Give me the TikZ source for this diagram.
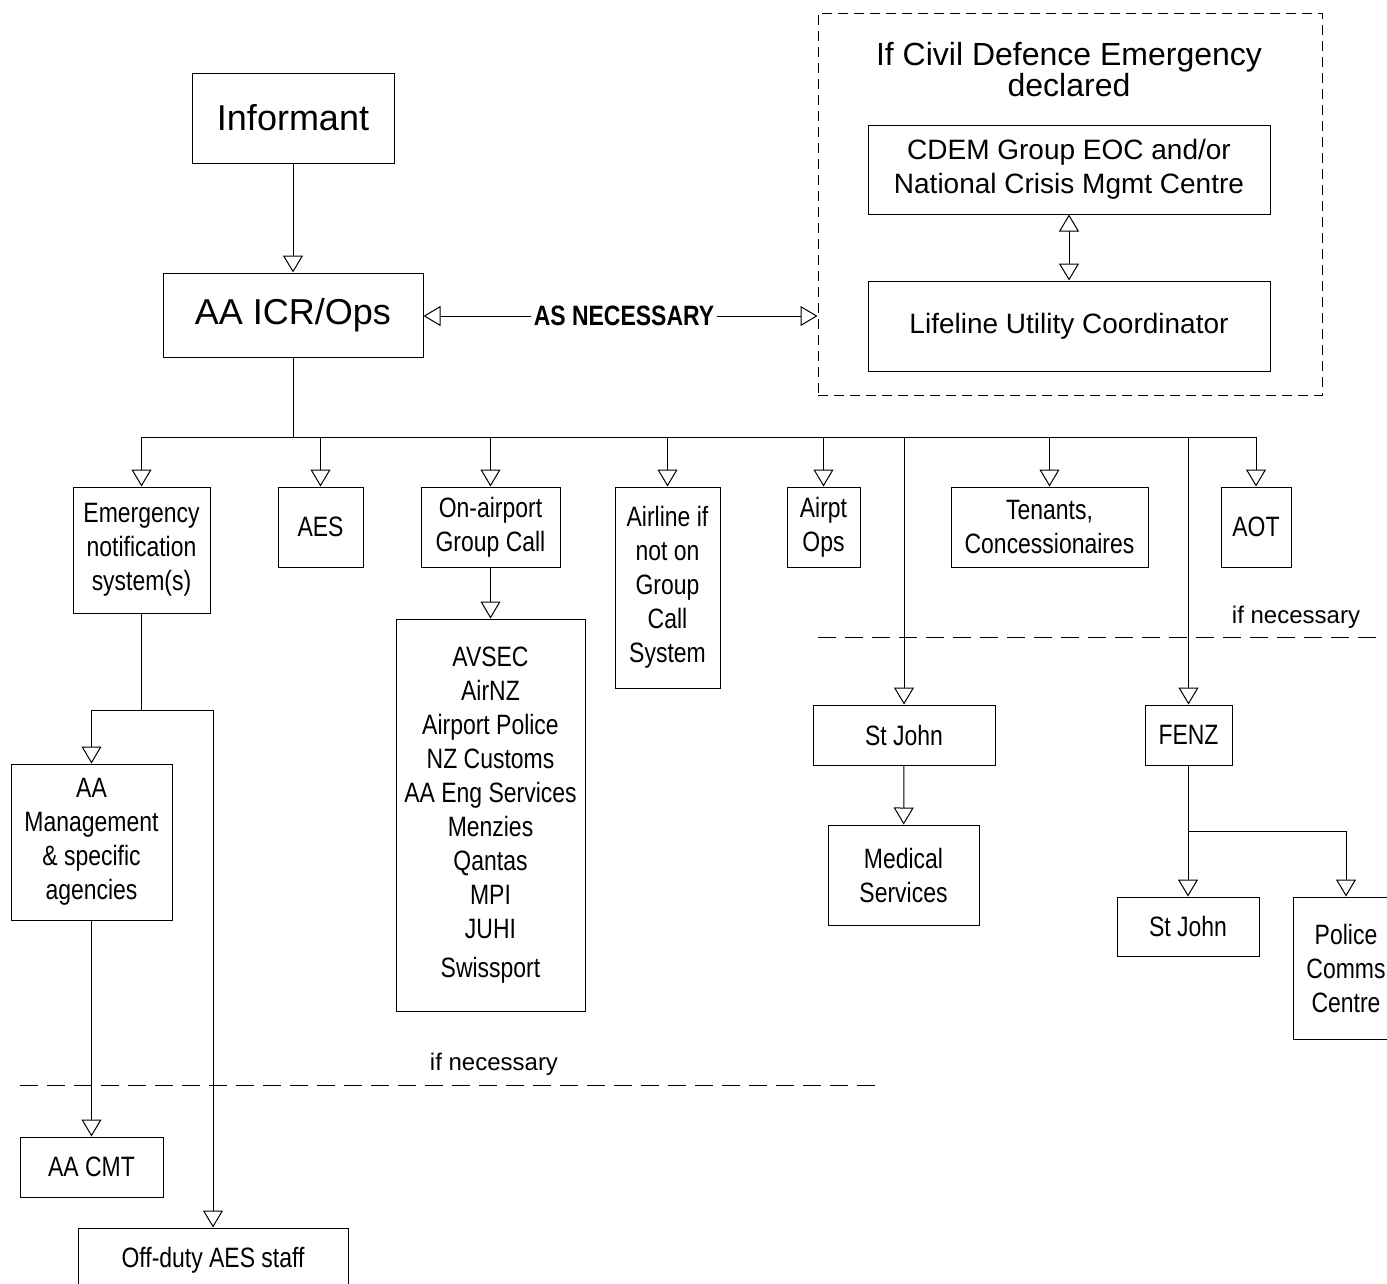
\documentclass[tikz,border=0pt]{standalone}
\usepackage{fontspec}
\setmainfont{Liberation Sans}
\newfontfamily\narrowfont[FakeStretch=0.82]{Liberation Sans}
\usetikzlibrary{arrows.meta}

\begin{document}
\begin{tikzpicture}[x=1pt,y=-1pt,line width=1pt,
  box/.style={draw,inner sep=0pt,align=center,font=\narrowfont\fontsize{28}{34}\selectfont},
  bigbox/.style={draw,inner sep=0pt,align=center,font=\fontsize{36}{40}\selectfont},
  midbox/.style={draw,inner sep=0pt,align=center,font=\fontsize{28}{34}\selectfont},
  arr/.style={-{Triangle[open,length=17pt,width=20pt]}},
  twoarr/.style={{Triangle[open,length=17pt,width=20pt]}-{Triangle[open,length=17pt,width=20pt]}},
  sepline/.style={dash pattern=on 18pt off 9pt},
  note/.style={inner sep=0pt,font=\fontsize{24}{28}\selectfont}]
\path[use as bounding box] (0,0) rectangle (1387,1283);
% top part
\node[bigbox,minimum width=202pt,minimum height=90pt] (inf) at (293,118) {Informant};
\node[bigbox,minimum width=260pt,minimum height=84pt] (icr) at (293,315) {AA ICR/Ops};
\draw[arr] (inf) -- (icr);
\node[draw,dash pattern=on 10pt off 6pt,minimum width=504pt,minimum height=382pt] (cdframe) at (1070,204) {};
\node[align=center,inner sep=0pt,font=\fontsize{32}{31}\selectfont] (cdtitle) at (1069,70) {If Civil Defence Emergency\\declared};
\node[midbox,minimum width=402pt,minimum height=89pt] (cdem) at (1069,169.5) {CDEM Group EOC and/or\\National Crisis Mgmt Centre};
\node[midbox,minimum width=402pt,minimum height=90pt] (luc) at (1069,326) {Lifeline Utility Coordinator};
\draw[twoarr] (cdem) -- (luc);
\node[inner sep=2pt,font=\narrowfont\bfseries\fontsize{28}{30}\selectfont] (asn) at (624,316) {AS NECESSARY};
\draw[arr] (asn.west) -- (asn.west -| icr.east);
\draw[arr] (asn.east) -- (asn.east -| cdframe.west);
% second row
\coordinate (bus) at (0,437);
\node[box,minimum width=137pt,minimum height=126pt] (ens) at (141.5,550) {Emergency\\notification\\system(s)};
\node[box,minimum width=85pt,minimum height=80pt] (aes) at (320.5,527) {AES};
\node[box,minimum width=139pt,minimum height=80pt] (oagc) at (490.5,527) {On-airport\\Group Call};
\node[box,minimum width=105pt,minimum height=201pt] (airline) at (667.5,587.5) {Airline if\\not on\\Group\\Call\\System};
\node[box,minimum width=73pt,minimum height=80pt] (airpt) at (823.5,527) {Airpt\\Ops};
\node[box,minimum width=197pt,minimum height=80pt] (tenants) at (1049.5,527) {Tenants,\\Concessionaires};
\node[box,minimum width=70pt,minimum height=80pt] (aot) at (1256,527) {AOT};
\node[box,minimum width=182pt,minimum height=60pt] (stjohn) at (904,735) {St John};
\node[box,minimum width=87pt,minimum height=60pt] (fenz) at (1188.5,735) {FENZ};
\draw (icr) -- (icr.south |- bus);
\draw (ens.north |- bus) -- (aot.north |- bus);
\foreach \n in {ens,aes,oagc,airline,airpt,tenants,aot,stjohn,fenz}
  \draw[arr] (\n.north |- bus) -- (\n.north);
\node[note] (ifnec1) at (1296,617) {if necessary};
\draw[sepline] (818,637) -- (1380,637);
% group call list
\node[box,minimum width=189pt,minimum height=392pt] (list) at (490.5,815) {AVSEC\\AirNZ\\Airport Police\\NZ Customs\\AA Eng Services\\Menzies\\Qantas\\MPI\\JUHI\\[5pt]Swissport};
\draw[arr] (oagc) -- (list);
% St John / FENZ
\node[box,minimum width=151pt,minimum height=100pt] (medical) at (903.5,875) {Medical\\Services};
\draw[arr] (stjohn) -- (medical);
\coordinate (fsplit) at (0,831);
\node[box,minimum width=142pt,minimum height=59pt] (stjohnb) at (1188,926.5) {St John};
\node[box,minimum width=106pt,minimum height=142pt] (police) at (1346,968) {Police\\Comms\\Centre};
\draw (fenz) -- (fenz.south |- fsplit);
\draw (stjohnb.north |- fsplit) -- (police.north |- fsplit);
\draw[arr] (stjohnb.north |- fsplit) -- (stjohnb.north);
\draw[arr] (police.north |- fsplit) -- (police.north);
% notification branch
\coordinate (nsplit) at (0,710);
\node[box,minimum width=161pt,minimum height=156pt] (aamgmt) at (91.5,842) {AA\\Management\\\& specific\\agencies};
\node[box,minimum width=143pt,minimum height=60pt] (aacmt) at (91.5,1167) {AA CMT};
\node[box,minimum width=270pt,minimum height=64pt] (offduty) at (213,1260) {Off-duty AES staff};
\draw (ens) -- (ens.south |- nsplit);
\draw (aamgmt.north |- nsplit) -- (offduty.north |- nsplit);
\draw[arr] (aamgmt.north |- nsplit) -- (aamgmt.north);
\draw[arr] (offduty.north |- nsplit) -- (offduty.north);
\draw[arr] (aamgmt) -- (aacmt);
\node[note] (ifnec2) at (494,1064) {if necessary};
\draw[sepline] (20,1085) -- (878,1085);
\end{tikzpicture}
\end{document}
